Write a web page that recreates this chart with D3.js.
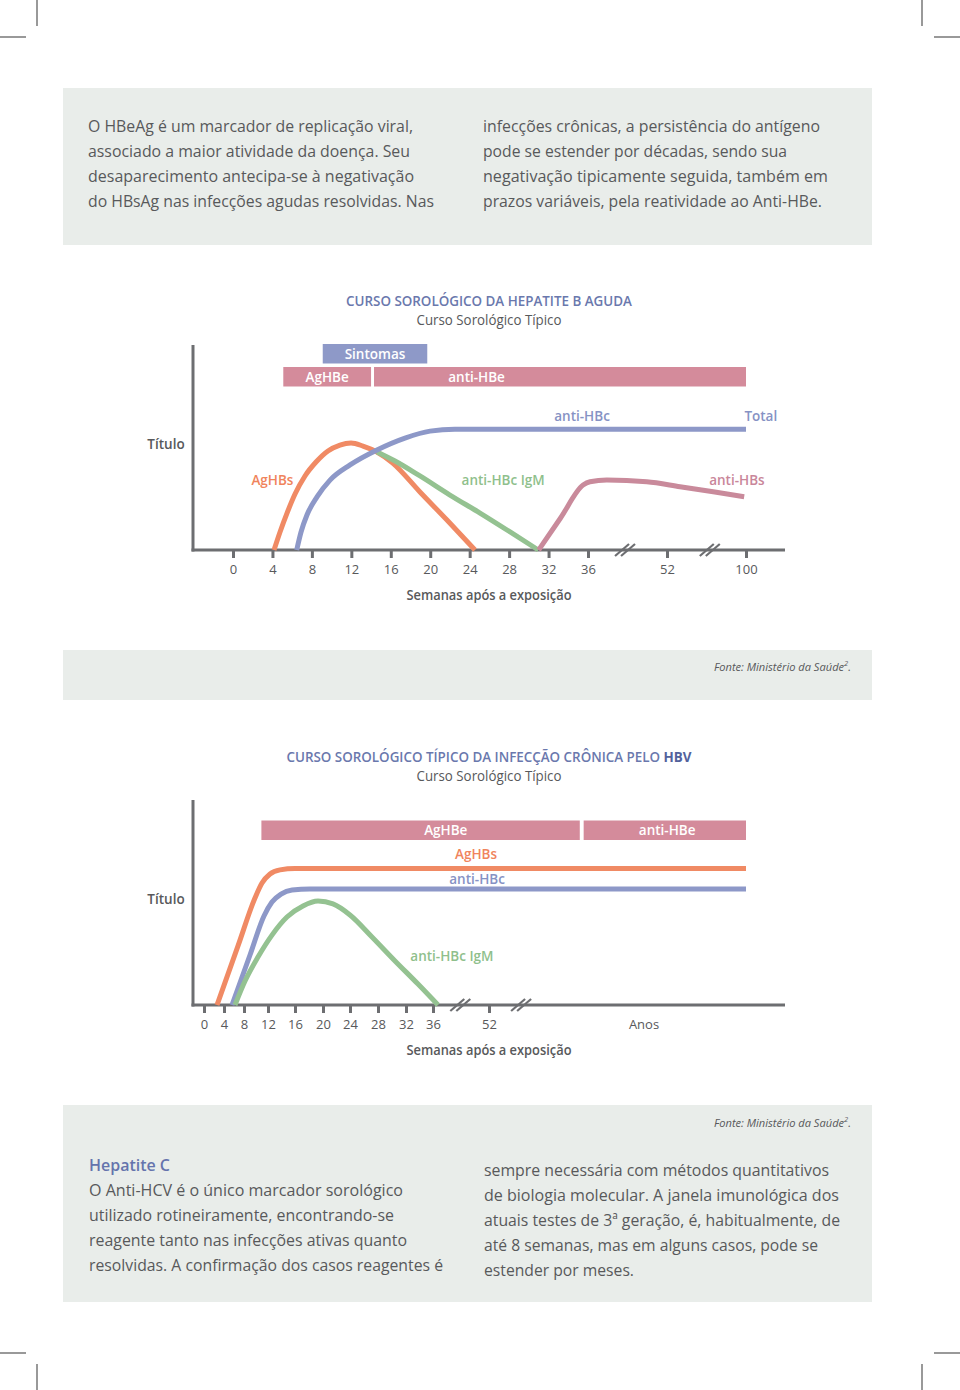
<!DOCTYPE html>
<html><head><meta charset="utf-8">
<script src="https://cdn.jsdelivr.net/npm/d3@7"></script>
<style>body{margin:0;background:#fff} svg{display:block}</style>
</head><body>
<svg id="page" width="960" height="1390"></svg>
<script>
// ---------------- DATA ----------------
const introLeft = ["O HBeAg é um marcador de replicação viral,","associado a maior atividade da doença. Seu","desaparecimento antecipa-se à negativação","do HBsAg nas infecções agudas resolvidas. Nas"];
const introRight = ["infecções crônicas, a persistência do antígeno","pode se estender por décadas, sendo sua","negativação tipicamente seguida, também em","prazos variáveis, pela reatividade ao Anti-HBe."];
const hepCTitle = "Hepatite C";
const hepCLeft = ["O Anti-HCV é o único marcador sorológico","utilizado rotineiramente, encontrando-se","reagente tanto nas infecções ativas quanto","resolvidas. A confirmação dos casos reagentes é"];
const hepCRight = ["sempre necessária com métodos quantitativos","de biologia molecular. A janela imunológica dos","atuais testes de 3ª geração, é, habitualmente, de","até 8 semanas, mas em alguns casos, pode se","estender por meses."];

// Chart 1: acute hepatitis B (x in weeks after exposure, y = relative titre 0-100)
const c1Title = "CURSO SOROLÓGICO DA HEPATITE B AGUDA";
const c1Ticks = [0,4,8,12,16,20,24,28,32,36,52,100];
const c1Breaks = [43.5, 78];
const c1Bars = [
  {name:"Sintomas", start:9.1, end:19.7, row:0, kind:"sym"},
  {name:"AgHBe", start:5.1, end:14.0, row:1, kind:"ag"},
  {name:"anti-HBe", start:14.3, end:100, row:1, kind:"ag", labelAt:24.7}
];
const c1AgHBs = [[4.16,0],[4.77,8.8],[5.48,18.0],[6.29,27.3],[7.30,36.1],[8.42,42.9],[9.63,48.3],[10.85,51.2],[11.97,52.2],[13.18,50.7],[14.6,47.8],[16.2,42.4],[18.96,28.3],[21.7,14.6],[24.54,0]];
const c1AntiHBcTotal = [[6.46,0],[6.90,8.8],[7.50,17.1],[8.52,25.9],[9.84,34.1],[11.87,41.5],[14.6,48.8],[17.44,54.6],[19.98,58.0],[22.5,58.9],[100,58.9]];
const c1IgM = [[14.6,47.8],[16.43,43.4],[18.96,36.1],[22.0,26.8],[25.05,18.0],[28.1,8.8],[30.96,0]];
const c1AntiHBs = [[31,0],[33.2,15.5],[35.5,31.7],[36.4,33.3],[39.8,34.1],[47.9,33.3],[59.9,30.9],[80.1,28.4],[98.9,26]];
const c1Labels = [
  {text:"AgHBs", w:4.0, v:34.1, s:"orange"},
  {text:"anti-HBc IgM", w:27.4, v:34.1, s:"green"},
  {text:"anti-HBs", w:94.5, v:34.1, s:"pink"},
  {text:"anti-HBc", w:35.4, v:65.4, s:"blue"},
  {text:"Total", w:109, v:65.4, s:"blue"}
];

// Chart 2: chronic HBV
const c2TitleA = "CURSO SOROLÓGICO TÍPICO DA INFECÇÃO CRÔNICA PELO";
const c2TitleB = "HBV";
const c2Ticks = [0,4,8,12,16,20,24,28,32,36,52];
const c2YearsLabel = "Anos";
const c2YearsAt = 80;
const c2Breaks = [43.8, 57.8];
const c2Bars = [
  {name:"AgHBe", start:10.9, end:68.4, row:0, kind:"ag"},
  {name:"anti-HBe", start:69.1, end:100, row:0, kind:"ag"}
];
const c2AgHBs = [[2.6,0],[6.8,28.8],[9.83,52.2],[11,59.5],[12.3,63.9],[13.78,65.9],[16,66.6],[100,66.6]];
const c2AntiHBc = [[5.6,0],[9,24.4],[11.33,43.4],[12.59,50.2],[13.93,54.1],[15.56,56.1],[18.14,56.6],[100,56.6]];
const c2IgM = [[6.2,0],[8.17,11.7],[10.33,23.4],[12.59,34.1],[14.81,42.9],[17.14,48.3],[19.29,50.7],[21.48,49.3],[24,43.9],[27.14,33.2],[30.43,21.5],[33.78,10.2],[37.43,0]];
const c2Labels = [
  {text:"AgHBs", w:48.3, v:73.4, s:"orange"},
  {text:"anti-HBc", w:48.6, v:61.4, s:"blue"},
  {text:"anti-HBc IgM", w:41.4, v:23.9, s:"green"}
];

const subtitle = "Curso Sorológico Típico";
const yLabel = "Título";
const xLabel = "Semanas após a exposição";
const sourceText = "Fonte: Ministério da Saúde";

// ---------------- STYLE ----------------
const F = "'Open Sans','Noto Sans',sans-serif";
const TXT = "#58595b", AX = "#6d6e71", BOX = "#e9edea", TITLE = "#6a78ad";
const COL = {orange:"#f08a64", green:"#94c291", blue:"#8d98c8", pink:"#c98a9b"};
const LAB = {orange:"#f0845c", green:"#8fbf8c", blue:"#8692c4", pink:"#c9869a"};
const BAR = {sym:"#8e99c8", ag:"#d48b9b"};

const svg = d3.select("#page");
svg.append("rect").attr("width",960).attr("height",1390).attr("fill","#fff");

// crop marks
const marks = [[37,0,37,26],[0,37,26,37],[922,0,922,26],[934,37,960,37],
               [0,1353,26,1353],[37,1364,37,1390],[934,1353,960,1353],[922,1364,922,1390]];
svg.selectAll("line.crop").data(marks).join("line").attr("class","crop")
  .attr("x1",d=>d[0]).attr("y1",d=>d[1]).attr("x2",d=>d[2]).attr("y2",d=>d[3])
  .attr("stroke","#555").attr("stroke-width",1.2);

// gray boxes
[[88,157],[650,50],[1105,197]].forEach(b=>{
  svg.append("rect").attr("x",63).attr("y",b[0]).attr("width",809).attr("height",b[1]).attr("fill",BOX);
});

function para(lines, x, y0, widths, opts={}){
  lines.forEach((t,i)=>{
    const el = svg.append("text").attr("x",x).attr("y",y0+i*25)
      .attr("font-family",F).attr("font-size",opts.size||17).attr("fill",opts.color||TXT)
      .attr("font-weight",opts.weight||400).text(t);
    if(widths && widths[i]) el.attr("textLength",widths[i]).attr("lengthAdjust","spacingAndGlyphs");
  });
}
para(introLeft, 88, 132, [325,322,326,346]);
para(introRight, 483, 132, [337,304,345,339]);
para([hepCTitle], 89, 1171, [81], {color:"#6574ad", weight:600});
para(hepCLeft, 89, 1196, [314,305,318,354]);
para(hepCRight, 484, 1176, [345,355,356,334,150]);

function source(y){
  const t = svg.append("text").attr("x",851).attr("y",y).attr("text-anchor","end")
    .attr("font-family",F).attr("font-style","italic").attr("fill",TXT).attr("font-size",11.1);
  t.append("tspan").text(sourceText);
  t.append("tspan").attr("font-size",7.5).attr("dy",-5).text("2");
  t.append("tspan").attr("dy",5).text(".");
}
source(671);
source(1127);

function chart(cfg){
  const g = svg.append("g");
  const x = d3.scaleLinear().domain(cfg.xDomain).range(cfg.xRange);
  const y = d3.scaleLinear().domain([0,100]).range([cfg.base, cfg.base-205]);

  // titles
  const tt = g.append("text").attr("x",489).attr("y",cfg.titleY).attr("text-anchor","middle")
    .attr("font-family",F).attr("font-size",cfg.titleSize).attr("font-weight",600).attr("fill",TITLE);
  tt.append("tspan").text(cfg.titleA);
  if(cfg.titleB) tt.append("tspan").attr("font-weight",700).attr("fill","#53629c").text(" " + cfg.titleB);
  g.append("text").attr("x",489).attr("y",cfg.titleY+19).attr("text-anchor","middle")
    .attr("font-family",F).attr("font-size",14).attr("font-weight",500).attr("fill",TXT)
    .attr("textLength",145).attr("lengthAdjust","spacingAndGlyphs").text(subtitle);

  // bars
  const bg = g.append("g").selectAll("g").data(cfg.bars).join("g");
  bg.append("rect").attr("x",d=>x(d.start)).attr("width",d=>x(d.end)-x(d.start))
    .attr("y",d=>cfg.barY[d.row]).attr("height",19.5).attr("fill",d=>BAR[d.kind]);
  bg.append("text").attr("x",d=>x(d.labelAt!==undefined?d.labelAt:(d.start+d.end)/2))
    .attr("y",d=>cfg.barY[d.row]+14.8).attr("text-anchor","middle")
    .attr("font-family",F).attr("font-size",13.5).attr("font-weight",600).attr("fill","#fff").text(d=>d.name);

  // axes
  const ya = g.append("g").attr("transform",`translate(193,0)`)
    .call(d3.axisLeft(y).tickValues([]).tickSizeOuter(0));
  ya.select(".domain").attr("stroke",AX).attr("stroke-width",3).attr("d",`M0,${cfg.base-205}V${cfg.base+1.5}`);
  g.append("line").attr("x1",191.5).attr("x2",785).attr("y1",cfg.base).attr("y2",cfg.base)
    .attr("stroke",AX).attr("stroke-width",3);
  const xa = g.append("g").attr("transform",`translate(0,${cfg.base})`)
    .call(d3.axisBottom(x).tickValues(cfg.ticks).tickSize(8).tickFormat(d3.format("d")));
  xa.select(".domain").remove();
  xa.selectAll(".tick line").attr("stroke",AX).attr("stroke-width",3);
  xa.selectAll(".tick text").attr("y",24).attr("dy",0).attr("font-family",F).attr("font-size",13)
    .attr("font-weight",500).attr("fill",TXT);
  if(cfg.years) g.append("text").attr("x",x(cfg.years.at)).attr("y",cfg.base+24).attr("text-anchor","middle")
    .attr("font-family",F).attr("font-size",13).attr("font-weight",500).attr("fill",TXT).text(cfg.years.label);

  // breaks
  cfg.breaks.forEach(b=>{
    const bx = x(b);
    [-3,3].forEach(k=>{
      g.append("line").attr("x1",bx+k-7).attr("y1",cfg.base+6).attr("x2",bx+k+7).attr("y2",cfg.base-6)
        .attr("stroke",AX).attr("stroke-width",2.2);
    });
  });

  g.append("text").attr("x",166).attr("y",cfg.base-101).attr("text-anchor","middle")
    .attr("font-family",F).attr("font-size",13.5).attr("font-weight",600).attr("fill",TXT).text(yLabel);
  g.append("text").attr("x",489).attr("y",cfg.base+50).attr("text-anchor","middle")
    .attr("font-family",F).attr("font-size",13.5).attr("font-weight",600).attr("fill",TXT)
    .attr("textLength",165).attr("lengthAdjust","spacingAndGlyphs").text(xLabel);

  // curves
  const line = d3.line().x(d=>x(d[0])).y(d=>y(d[1])).curve(d3.curveMonotoneX);
  cfg.series.forEach(s=>{
    g.append("path").datum(s.data).attr("d",line).attr("fill","none")
      .attr("stroke",COL[s.c]).attr("stroke-width",5);
  });
  g.selectAll("text.lab").data(cfg.labels).join("text").attr("class","lab")
    .attr("x",d=>x(d.w)).attr("y",d=>y(d.v)).attr("dy","0.35em").attr("text-anchor","middle")
    .attr("font-family",F).attr("font-size",13.5).attr("font-weight",600).attr("fill",d=>LAB[d.s]).text(d=>d.text);
}

chart({
  xDomain:[0,36,52,100], xRange:[233,588,667,746], base:550,
  titleY:306, titleA:c1Title, titleSize:13.4,
  bars:c1Bars, barY:[344,367], ticks:c1Ticks, breaks:c1Breaks,
  series:[{data:c1AgHBs,c:"orange"},{data:c1IgM,c:"green"},{data:c1AntiHBcTotal,c:"blue"},{data:c1AntiHBs,c:"pink"}],
  labels:c1Labels
});
chart({
  xDomain:[0,4,8,12,16,20,24,28,32,36,52,80,100],
  xRange:[204,224,244,268,295,323,350,378,406,433,489,644,746], base:1005,
  titleY:762, titleA:c2TitleA, titleB:c2TitleB, titleSize:13.4,
  bars:c2Bars, barY:[820.5], ticks:c2Ticks, breaks:c2Breaks,
  years:{at:c2YearsAt,label:c2YearsLabel},
  series:[{data:c2AgHBs,c:"orange"},{data:c2AntiHBc,c:"blue"},{data:c2IgM,c:"green"}],
  labels:c2Labels
});
</script>
</body></html>
